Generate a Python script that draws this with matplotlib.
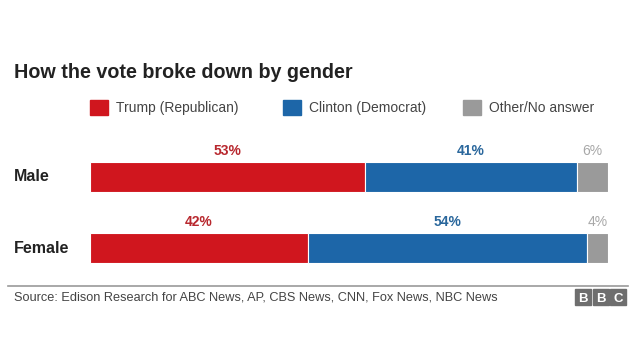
import matplotlib.pyplot as plt
from matplotlib.patches import Rectangle

plt.rcParams['font.family'] = ['Liberation Sans', 'DejaVu Sans']

groups = ["Male", "Female"]
parties = ["Trump (Republican)", "Clinton (Democrat)", "Other/No answer"]
trump = [53, 42]
clinton = [41, 54]
other = [6, 4]
bar_colors = ["#d0161e", "#1d66a8", "#9a9a9a"]
label_colors = ["#b8282e", "#2a679c", "#a8a8a8"]

W, H = 640, 360
fig = plt.figure(figsize=(6.4, 3.6), dpi=100)
fig.patch.set_facecolor("white")


def fx(px):
    return px / W


def fy(py):
    return 1 - py / H


# title
fig.text(fx(14), fy(73), "How the vote broke down by gender", fontsize=14.2,
         fontweight="bold", color="#222222", va="center", ha="left")

# legend
leg_x = [90, 283, 463]
for x, name, c in zip(leg_x, parties, bar_colors):
    fig.patches.append(Rectangle((fx(x), fy(115)), fx(18), 15 / H, color=c,
                                 transform=fig.transFigure))
    fig.text(fx(x + 26), fy(108), name, fontsize=10, color="#444444",
             va="center", ha="left")

# bars
ax = fig.add_axes([fx(90), fy(280), fx(518), 140 / H])
series = [trump, clinton, other]
left = [0] * len(groups)
for vals, c, lc in zip(series, bar_colors, label_colors):
    ax.barh(range(len(groups)), vals, left=left, height=0.43, color=c,
            edgecolor="white", linewidth=0.8)
    for i, v in enumerate(vals):
        ax.text(left[i] + v / 2, i - 0.37, f"{v}%", ha="center", va="center",
                fontsize=10, fontweight="bold" if c != bar_colors[2] else "normal",
                color=lc)
    left = [l + v for l, v in zip(left, vals)]

ax.set_xlim(0, 100)
ax.set_ylim(1.45, -0.52)
ax.axis("off")

for i, g in enumerate(groups):
    ax.text(-76 / 518 * 100, i, g, ha="left", va="center", fontsize=11.5,
            fontweight="bold", color="#222222", clip_on=False)

# footer
fig.add_artist(plt.Line2D([fx(8), fx(628)], [fy(286), fy(286)], color="#9a9a9a",
                          linewidth=1.2, transform=fig.transFigure))
fig.text(fx(14), fy(297), "Source: Edison Research for ABC News, AP, CBS News, CNN, Fox News, NBC News",
         fontsize=9.2, color="#444444", va="center", ha="left")
for k, letter in enumerate("BBC"):
    x0 = 575 + k * 17.5
    fig.patches.append(Rectangle((fx(x0), fy(305)), fx(16), 16 / H, color="#6e6e6e",
                                 transform=fig.transFigure))
    fig.text(fx(x0 + 8), fy(297), letter, fontsize=9.5, fontweight="bold",
             color="white", ha="center", va="center_baseline")

fig.savefig("out.png", dpi=100)
